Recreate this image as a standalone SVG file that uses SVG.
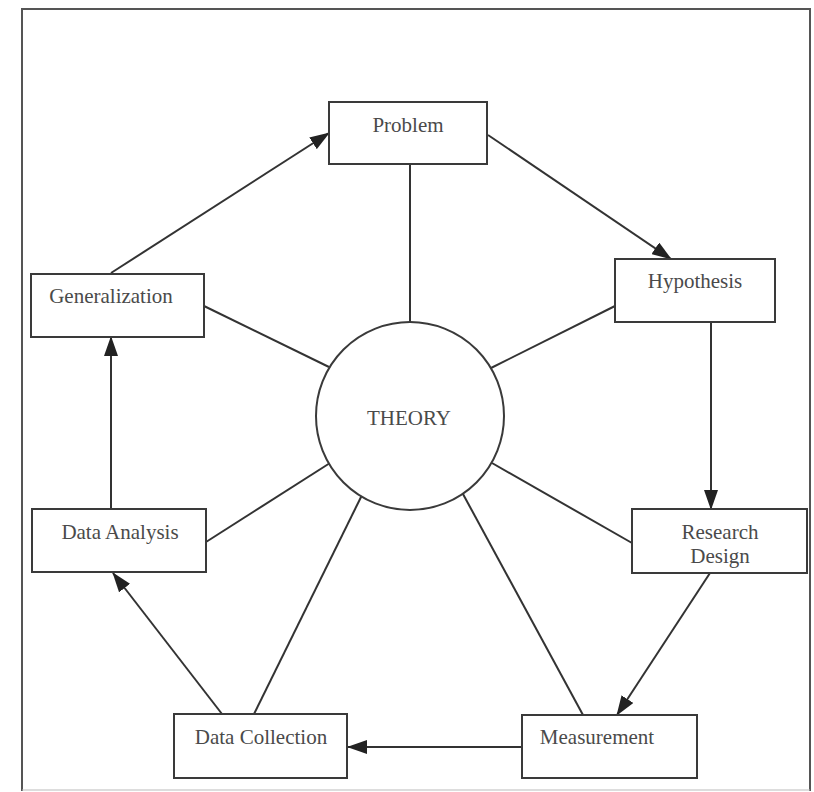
<svg xmlns="http://www.w3.org/2000/svg" width="814" height="792" viewBox="0 0 814 792">
<defs>
<style>
.box{fill:#fff;stroke:#3a3a3a;stroke-width:2}
.lbl{font-family:"Liberation Serif","Times New Roman",serif;font-size:21px;fill:#4a4a4a;text-anchor:middle}
.ln{stroke:#333;stroke-width:2;fill:none}
.arr{stroke:#333;stroke-width:2;fill:none;marker-end:url(#ah)}
</style>
<marker id="ah" markerUnits="userSpaceOnUse" markerWidth="20" markerHeight="14" viewBox="0 0 20 14" refX="19" refY="7" orient="auto">
<path d="M0,0 L20,7 L0,14 Z" fill="#222"/>
</marker>
</defs>
<rect width="814" height="792" fill="#fff"/>
<g id="frame">
<path d="M22,791 L22,9 L810,9 L810,791" fill="none" stroke="#555" stroke-width="2"/>
<line x1="22" y1="790" x2="810" y2="790" stroke="#bbb" stroke-width="1"/>
</g>
<g id="connectors">
<line class="ln" x1="410" y1="164" x2="410" y2="322"/>
<line class="ln" x1="204" y1="306" x2="329" y2="367"/>
<line class="ln" x1="615" y1="306" x2="491" y2="368"/>
<line class="ln" x1="206" y1="542" x2="330" y2="463"/>
<line class="ln" x1="632" y1="543" x2="492" y2="463"/>
<line class="ln" x1="254" y1="714" x2="363" y2="493"/>
<line class="ln" x1="583" y1="715" x2="457" y2="483"/>
<line class="arr" x1="111" y1="273" x2="329" y2="133"/>
<line class="arr" x1="488" y1="135" x2="671" y2="259"/>
<line class="arr" x1="711" y1="322" x2="711" y2="509"/>
<line class="arr" x1="710" y1="573" x2="617" y2="715"/>
<line class="arr" x1="522" y1="747" x2="348" y2="747"/>
<line class="arr" x1="222" y1="714" x2="113" y2="573"/>
<line class="arr" x1="111" y1="509" x2="111" y2="337"/>
</g>
<g id="theory">
<circle cx="410" cy="416" r="94" fill="#fff" stroke="#3a3a3a" stroke-width="2"/>
<text class="lbl" x="409" y="425">THEORY</text>
</g>
<g id="problem">
<rect class="box" x="329" y="102" width="158" height="62"/>
<text class="lbl" x="408" y="132">Problem</text>
</g>
<g id="hypothesis">
<rect class="box" x="615" y="259" width="160" height="63"/>
<text class="lbl" x="695" y="288">Hypothesis</text>
</g>
<g id="research-design">
<rect class="box" x="632" y="509" width="175" height="64"/>
<text class="lbl" x="720" y="539">Research</text>
<text class="lbl" x="720" y="563">Design</text>
</g>
<g id="measurement">
<rect class="box" x="522" y="715" width="175" height="63"/>
<text class="lbl" x="597" y="744">Measurement</text>
</g>
<g id="data-collection">
<rect class="box" x="174" y="714" width="173" height="64"/>
<text class="lbl" x="261" y="744">Data Collection</text>
</g>
<g id="data-analysis">
<rect class="box" x="32" y="509" width="174" height="63"/>
<text class="lbl" x="120" y="539">Data Analysis</text>
</g>
<g id="generalization">
<rect class="box" x="31" y="274" width="173" height="63"/>
<text class="lbl" x="111" y="303">Generalization</text>
</g>
</svg>
